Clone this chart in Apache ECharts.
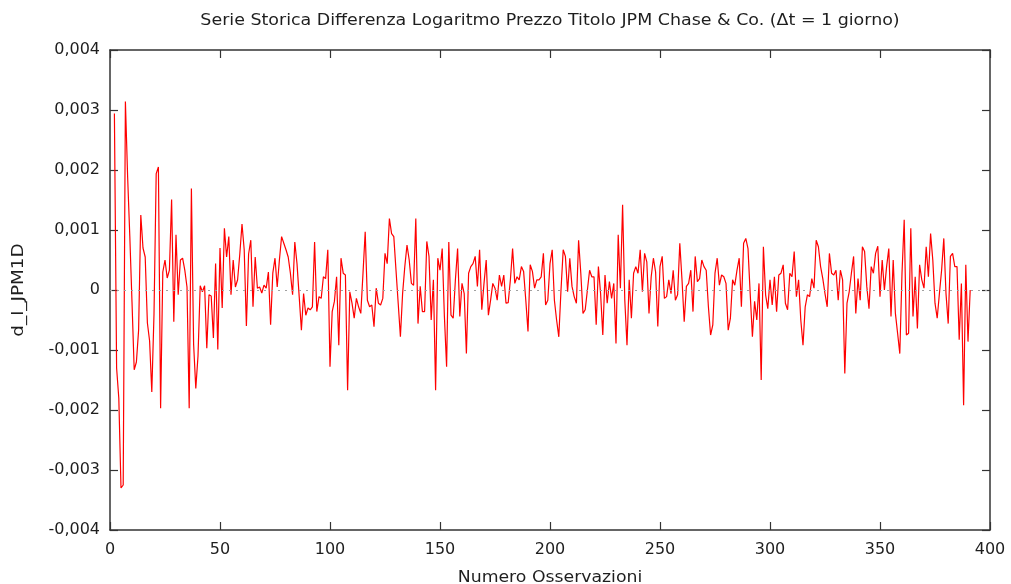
<!DOCTYPE html>
<html>
<head>
<meta charset="utf-8">
<script src="https://cdn.jsdelivr.net/npm/echarts@6/dist/echarts.min.js"></script>
<style>
  html, body { margin: 0; padding: 0; background: #ffffff; overflow: hidden; }
  #chart { width: 1011px; height: 584px; }
</style>
</head>
<body>
<div id="chart"></div>
<script>
// Observation index of the first value (the first log-difference is lost)
const firstObs = 2;

// d_l_JPM1D, expressed in thousandths (x 1e-3), one value per observation
const seriesThousandths = [
  // obs 2-50
  2.94, -1.30, -1.80, -3.30, -3.25, 3.14, 1.90, 0.90, -0.20, -1.33,
  -1.20, -0.67, 1.25, 0.70, 0.55, -0.55, -0.85, -1.70, -0.40, 1.94,
  2.05, -1.97, 0.30, 0.50, 0.20, 0.33, 1.51, -0.53, 0.92, -0.08,
  0.50, 0.53, 0.33, 0.05, -1.97, 1.69, -0.90, -1.64, -1.10, 0.07,
  -0.03, 0.07, -0.97, -0.08, -0.10, -0.80, 0.44, -0.99, 0.70,
  // obs 51-100
  -0.30, 1.03, 0.55, 0.89, -0.08, 0.50, 0.05, 0.17, 0.60, 1.10,
  0.67, -0.60, 0.60, 0.83, -0.28, 0.55, 0.03, 0.05, -0.05, 0.08,
  0.03, 0.30, -0.58, 0.28, 0.53, 0.05, 0.50, 0.89, 0.78, 0.67,
  0.55, 0.28, -0.08, 0.80, 0.44, -0.11, -0.67, -0.06, -0.42, -0.30,
  -0.33, -0.28, 0.80, -0.36, -0.11, -0.14, 0.22, 0.19, 0.67, -1.28,
  // obs 101-150
  -0.36, -0.19, 0.22, -0.92, 0.53, 0.28, 0.25, -1.67, -0.03, -0.22,
  -0.47, -0.14, -0.28, -0.39, 0.28, 0.97, -0.17, -0.28, -0.25, -0.61,
  0.03, -0.22, -0.25, -0.14, 0.61, 0.44, 1.19, 0.94, 0.89, 0.33,
  -0.22, -0.78, -0.06, 0.39, 0.75, 0.50, 0.11, 0.08, 1.19, -0.56,
  0.06, -0.36, -0.36, 0.81, 0.56, -0.50, 0.17, -1.67, 0.53, 0.33,
  // obs 151-200
  0.69, -0.44, -1.28, 0.80, -0.42, -0.47, 0.17, 0.69, -0.44, 0.11,
  -0.06, -1.06, 0.28, 0.39, 0.44, 0.56, 0.06, 0.67, -0.33, 0.11,
  0.50, -0.42, -0.17, 0.11, 0.03, -0.17, 0.25, 0.06, 0.25, -0.22,
  -0.21, 0.17, 0.69, 0.11, 0.22, 0.17, 0.39, 0.31, -0.17, -0.69,
  0.42, 0.31, 0.03, 0.17, 0.17, 0.22, 0.61, -0.25, -0.17, 0.44,
  // obs 201-250
  0.67, -0.17, -0.50, -0.78, 0.00, 0.67, 0.56, -0.03, 0.53, 0.06,
  -0.11, -0.22, 0.83, 0.28, -0.39, -0.33, 0.00, 0.33, 0.22, 0.22,
  -0.58, 0.39, -0.06, -0.75, 0.25, -0.22, 0.14, -0.14, 0.11, -0.89,
  0.92, 0.03, 1.42, -0.17, -0.92, 0.17, -0.47, 0.28, 0.39, 0.28,
  0.67, -0.03, 0.61, 0.47, -0.39, 0.22, 0.53, 0.30, -0.61, 0.39,
  // obs 251-300
  0.56, -0.14, -0.11, 0.17, -0.06, 0.33, -0.17, -0.08, 0.78, 0.17,
  -0.53, 0.06, 0.11, 0.33, -0.36, 0.56, 0.14, 0.19, 0.50, 0.39,
  0.33, -0.28, -0.75, -0.58, 0.28, 0.53, 0.08, 0.25, 0.22, 0.11,
  -0.67, -0.47, 0.17, 0.08, 0.33, 0.53, -0.28, 0.78, 0.86, 0.69,
  -0.06, -0.78, -0.19, -0.50, 0.11, -1.50, 0.72, -0.08, -0.31, 0.17,
  // obs 301-350
  -0.25, 0.22, -0.36, 0.25, 0.28, 0.42, -0.22, -0.33, 0.28, 0.22,
  0.64, -0.11, 0.17, -0.50, -0.92, -0.28, -0.08, -0.11, 0.19, 0.03,
  0.83, 0.72, 0.39, 0.19, -0.06, -0.28, 0.61, 0.28, 0.25, 0.33,
  -0.17, 0.33, 0.17, -1.39, -0.22, -0.03, 0.28, 0.56, -0.39, 0.19,
  -0.17, 0.72, 0.64, 0.06, -0.31, 0.39, 0.28, 0.61, 0.73, -0.11,
  // obs 351-391
  0.50, 0.00, 0.39, 0.69, -0.44, 0.50, -0.39, -0.72, -1.06, 0.28,
  1.17, -0.75, -0.72, 1.03, -0.44, 0.22, -0.64, 0.42, 0.17, 0.03,
  0.72, 0.22, 0.94, 0.50, -0.22, -0.47, -0.06, 0.33, 0.86, -0.06,
  -0.56, 0.56, 0.61, 0.39, 0.39, -0.83, 0.11, -1.92, 0.42, -0.86,
  0.00
];

// Axis ticks and their printed labels (Italian decimal comma)
const xTicks = [0, 50, 100, 150, 200, 250, 300, 350, 400];
const xTickLabels = ['0', '50', '100', '150', '200', '250', '300', '350', '400'];
const yTicks = [-0.004, -0.003, -0.002, -0.001, 0, 0.001, 0.002, 0.003, 0.004];
const yTickLabels = ['-0,004', '-0,003', '-0,002', '-0,001', '0', '0,001', '0,002', '0,003', '0,004'];

const titleText = 'Serie Storica Differenza Logaritmo Prezzo Titolo JPM Chase & Co. (\u0394t = 1 giorno)';
const xName = 'Numero Osservazioni';
const yName = 'd_l_JPM1D';

const points = seriesThousandths.map((v, i) => [firstObs + i, v / 1000]);

function labelFor(ticks, labels, value) {
  for (let i = 0; i < ticks.length; i++) {
    if (Math.abs(ticks[i] - value) < 1e-9) return labels[i];
  }
  return '';
}

const FONT = 'DejaVu Sans';
const textColor = '#1e1e1e';
const frameColor = '#333333';

// Plot box in pixels
const PLOT_LEFT = 110, PLOT_TOP = 50, PLOT_W = 880, PLOT_H = 480;
const PLOT_CX = PLOT_LEFT + PLOT_W / 2;

const chart = echarts.init(document.getElementById('chart'), null, { renderer: 'canvas', width: 1011, height: 584 });

const baseX = {
  type: 'value', min: 0, max: 400, interval: 50,
  axisLine: { show: true, onZero: false, lineStyle: { color: frameColor, width: 1.5 } },
  axisTick: { show: true, inside: true, length: 8, lineStyle: { color: frameColor, width: 1.2 } },
  splitLine: { show: false }
};
const baseY = {
  type: 'value', min: -0.004, max: 0.004, interval: 0.001,
  axisLine: { show: true, onZero: false, lineStyle: { color: frameColor, width: 1.5 } },
  axisTick: { show: true, inside: true, length: 8, lineStyle: { color: frameColor, width: 1.2 } },
  splitLine: { show: false }
};

chart.setOption({
  animation: false,
  backgroundColor: '#ffffff',
  graphic: [
    {
      type: 'text', x: PLOT_CX, y: 21, scaleX: 1.09,
      style: {
        text: titleText, fill: textColor,
        font: '16px "' + FONT + '"', textAlign: 'center', textVerticalAlign: 'middle'
      }
    },
    {
      type: 'text', x: PLOT_CX, y: 578, scaleX: 1.08,
      style: {
        text: xName, fill: textColor,
        font: '16px "' + FONT + '"', textAlign: 'center', textVerticalAlign: 'middle'
      }
    },
    {
      type: 'text', x: 19, y: 290, rotation: Math.PI / 2, scaleX: 1.15,
      style: {
        text: yName, fill: textColor,
        font: '16px "' + FONT + '"', textAlign: 'center', textVerticalAlign: 'middle'
      }
    }
  ],
  grid: { left: PLOT_LEFT, top: PLOT_TOP, width: PLOT_W, height: PLOT_H, containLabel: false },
  xAxis: [
    Object.assign({}, baseX, {
      position: 'bottom',
      axisLabel: {
        show: true, margin: 12, fontFamily: FONT, fontSize: 16, color: textColor,
        formatter: v => labelFor(xTicks, xTickLabels, v)
      }
    }),
    Object.assign({}, baseX, { position: 'top', axisLabel: { show: false } })
  ],
  yAxis: [
    Object.assign({}, baseY, {
      position: 'left',
      axisLabel: {
        show: true, margin: 10, fontFamily: FONT, fontSize: 16, color: textColor,
        formatter: v => labelFor(yTicks, yTickLabels, v)
      }
    }),
    Object.assign({}, baseY, { position: 'right', axisLabel: { show: false } })
  ],
  series: [{
    type: 'line',
    name: yName,
    xAxisIndex: 0, yAxisIndex: 0,
    data: points,
    showSymbol: false,
    symbol: 'none',
    lineStyle: { color: '#ff0000', width: 1.2 },
    markLine: {
      silent: true, symbol: 'none', label: { show: false },
      lineStyle: { color: '#a0a0a0', type: [2, 5], width: 1 },
      data: [{ yAxis: 0 }]
    },
    z: 3
  }]
});
</script>
</body>
</html>
